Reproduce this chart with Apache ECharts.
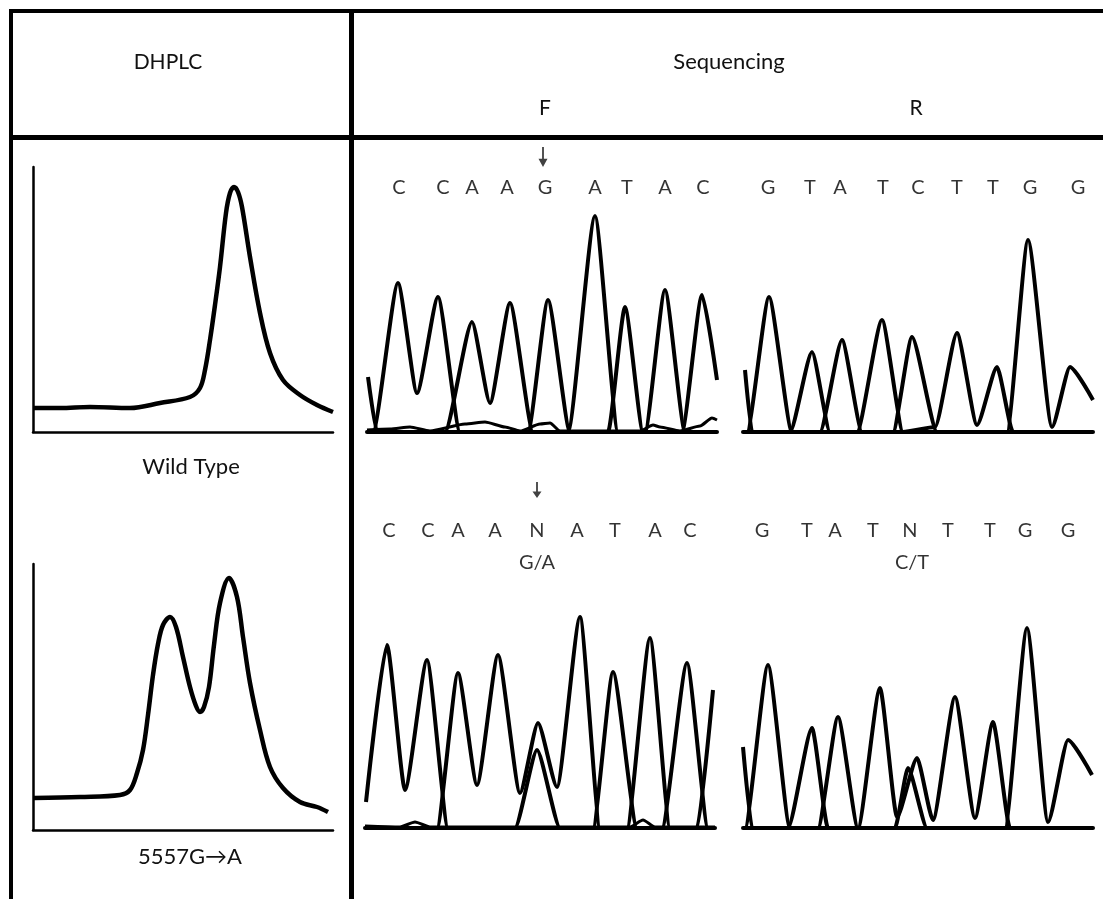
<!DOCTYPE html>
<html>
<head>
<meta charset="utf-8">
<title>DHPLC / Sequencing</title>
<script src="https://cdn.jsdelivr.net/npm/echarts@6/dist/echarts.min.js"></script>
<style>
  html, body { margin: 0; padding: 0; background: #fff; }
  #chart { width: 1103px; height: 899px; }
</style>
</head>
<body>
<div id="chart"></div>
<script>
// DHPLC elution profiles, [retention, signal]
const dhplcWild = [[1,24],[27,24],[57,25],[97,24],[127,29],[157,35],[167,44],[172,62],[177,92],[182,127],[187,165],[193,219],[197,239],[201,245],[205,240],[209,225],[217,175],[227,119],[237,79],[250,52],[267,37],[284,27],[300,20]];
const dhplcMutant = [[1,32],[47,33],[87,35],[97,40],[104,57],[110,80],[115,115],[120,155],[125,186],[130,205],[137,213],[143,203],[150,173],[157,143],[163,124],[167,118],[171,123],[176,143],[181,185],[187,227],[196,252],[204,233],[210,193],[217,147],[227,100],[237,63],[250,42],[267,28],[284,23],[295,18]];

// sequencing traces, one list per dye channel, [scan, intensity]
const fwdWtA = [[0,0],[78,0],[105,110],[123,29],[143,129],[166,0],[201,0],[228,216],[251,0],[278,0],[298,142],[318,0],[350,0]];
const fwdWtC = [[0,0],[6,0],[31,149],[50,39],[71,135],[93,0],[315,0],[335,137],[350,52]];
const fwdWtG = [[0,0],[161,0],[181,132],[203,0],[350,0]];
const fwdWtT = [[1,55],[10,0],[241,0],[258,125],[276,0],[350,0]];
const fwdWtNoise = [[0,2],[23,3],[43,5],[63,1],[98,8],[118,10],[138,5],[153,1],[173,8],[183,9],[193,1],[273,1],[286,7],[293,5],[313,1],[333,6],[345,14],[350,12]];

const revWtA = [[0,0],[77,0],[99,92],[119,0],[350,0]];
const revWtC = [[2,62],[9,0],[150,0],[169,95],[194,0],[350,0]];
const revWtG = [[0,0],[4,0],[26,135],[49,0],[264,0],[285,192],[309,5],[327,65],[350,32]];
const revWtT = [[0,0],[47,0],[69,80],[87,0],[114,0],[139,112],[160,0],[192,5],[214,99],[234,7],[254,65],[270,0],[350,0]];

const fwdMutA = [[0,0],[72,0],[93,155],[112,43],[133,173],[155,35],[173,105],[192,41],[215,211],[235,0],[262,0],[285,190],[305,0],[350,0]];
const fwdMutC = [[1,26],[22,183],[40,38],[62,168],[83,0],[297,0],[322,165],[343,0],[350,0]];
const fwdMutG = [[0,0],[150,0],[172,78],[195,0],[332,0],[348,138]];
const fwdMutT = [[0,0],[228,0],[248,156],[272,0],[350,0]];
const fwdMutNoise = [[0,2],[35,1],[50,6],[65,1],[265,1],[278,8],[290,1],[350,1]];

const revMutA = [[0,0],[75,0],[95,111],[115,0],[350,0]];
const revMutC = [[0,81],[9,0],[152,0],[165,60],[184,0],[350,0]];
const revMutG = [[0,0],[2,0],[25,163],[47,0],[262,0],[284,200],[305,6],[325,88],[349,53]];
const revMutT = [[0,0],[45,0],[69,100],[85,0],[115,0],[137,140],[154,11],[174,70],[190,8],[212,131],[232,10],[250,106],[267,0],[350,0]];

// base calls and the scan where each one sits
const fwdWtBases = ['C','C','A','A','G','A','T','A','C'];
const fwdWtPos = [32,76,105,140,178,228,260,298,336];
const revWtBases = ['G','T','A','T','C','T','T','G','G'];
const revWtPos = [25,67,97,140,175,214,250,287,335];
const fwdMutBases = ['C','C','A','A','N','A','T','A','C'];
const fwdMutPos = [24,63,93,130,172,212,250,290,325];
const revMutBases = ['G','T','A','T','N','T','T','G','G'];
const revMutPos = [19,64,92,130,167,205,247,282,325];
const fwdMutant = {label: 'G/A', pos: 172};
const revMutant = {label: 'C/T', pos: 169};
const fwdArrowPos = [176, 172]; // wild type row, mutant row

const FONT = 'Lato, "Open Sans", sans-serif';
const chart = echarts.init(document.getElementById('chart'));

// panel boxes: dhplc x2, then F/R wild type, F/R mutant
const grids = [
  {left: 33, top: 167, width: 300, height: 265},
  {left: 33, top: 564, width: 300, height: 266},
  {left: 367, top: 142, width: 350, height: 290},
  {left: 743, top: 142, width: 350, height: 290},
  {left: 365, top: 468, width: 350, height: 360},
  {left: 743, top: 468, width: 350, height: 360}
];
const yMax = [265, 266, 290, 290, 360, 360];

function axisPair(i) {
  const dhplc = i < 2;
  const x = {
    gridIndex: i, type: 'value', min: 0, max: dhplc ? 300 : 350,
    axisLine: {show: true, onZero: false, lineStyle: {color: '#000', width: dhplc ? 2.5 : 4}},
    axisTick: {show: false}, axisLabel: {show: false}, splitLine: {show: false}
  };
  const y = {
    gridIndex: i, type: 'value', min: 0, max: yMax[i], show: dhplc,
    axisLine: {show: true, onZero: false, lineStyle: {color: '#000', width: 2.5}},
    axisTick: {show: false}, axisLabel: {show: false}, splitLine: {show: false}
  };
  return [x, y];
}

function trace(data, i, w) {
  return {
    type: 'line', xAxisIndex: i, yAxisIndex: i, data: data,
    smooth: i < 2 ? 0.35 : 0.2, smoothMonotone: i < 2 ? undefined : 'x',
    symbol: 'none', silent: true,
    lineStyle: {color: '#000', width: w || 4}
  };
}

function calls(bases, pos, level, i) {
  return {
    type: 'scatter', xAxisIndex: i, yAxisIndex: i, silent: true,
    symbol: 'circle', symbolSize: 1, itemStyle: {color: 'rgba(0,0,0,0)'},
    data: bases.map((b, k) => ({name: b, value: [pos[k], level]})),
    label: {show: true, position: 'inside', formatter: '{b}', color: '#000', fontSize: 20, fontFamily: FONT}
  };
}

function arrow(x, level, len, i) {
  return {
    type: 'scatter', xAxisIndex: i, yAxisIndex: i, silent: true,
    symbol: 'path://M4,0 L6,0 L6,13 L10,13 L5,22 L0,13 L4,13 Z',
    symbolSize: [9, len], itemStyle: {color: '#111'},
    data: [[x, level]]
  };
}

const xAxes = [], yAxes = [];
grids.forEach((g, i) => { const p = axisPair(i); xAxes.push(p[0]); yAxes.push(p[1]); });

function text(str, x, y, size) {
  return {
    type: 'text', x: x, y: y, silent: true,
    style: {text: str, fill: '#111', font: size + 'px ' + FONT,
      align: 'center', verticalAlign: 'middle', textAlign: 'center', textVerticalAlign: 'middle'}
  };
}
function rule(x1, y1, x2, y2, w) {
  return {type: 'line', silent: true, shape: {x1: x1, y1: y1, x2: x2, y2: y2}, style: {stroke: '#000', lineWidth: w}};
}

chart.setOption({
  animation: false,
  grid: grids,
  xAxis: xAxes,
  yAxis: yAxes,
  graphic: [
    rule(9, 11, 1103, 11, 4),
    rule(11, 9, 11, 899, 4),
    rule(351.5, 9, 351.5, 899, 5),
    rule(9, 137.5, 1103, 137.5, 5),
    text('DHPLC', 168, 62, 21),
    text('Sequencing', 729, 62, 22),
    text('F', 545, 108, 21),
    text('R', 916, 108, 21),
    text('Wild Type', 191, 467, 22),
    text('5557G\u2192A', 190, 857, 22)
  ],
  series: [
    trace(dhplcWild, 0, 4.5),
    trace(dhplcMutant, 1, 4.5),
    trace(fwdWtNoise, 2, 3), trace(fwdWtA, 2), trace(fwdWtC, 2), trace(fwdWtG, 2), trace(fwdWtT, 2),
    trace(revWtA, 3), trace(revWtC, 3), trace(revWtG, 3), trace(revWtT, 3),
    trace(fwdMutNoise, 4, 3), trace(fwdMutA, 4), trace(fwdMutC, 4), trace(fwdMutG, 4), trace(fwdMutT, 4),
    trace(revMutA, 5), trace(revMutC, 5), trace(revMutG, 5), trace(revMutT, 5),
    calls(fwdWtBases, fwdWtPos, 244, 2),
    calls(revWtBases, revWtPos, 244, 3),
    calls(fwdMutBases, fwdMutPos, 297, 4),
    calls(revMutBases, revMutPos, 297, 5),
    calls([fwdMutant.label], [fwdMutant.pos], 265, 4),
    calls([revMutant.label], [revMutant.pos], 265, 5),
    arrow(fwdArrowPos[0], 275, 20, 2),
    arrow(fwdArrowPos[1], 338, 16, 4)
  ]
});
</script>
</body>
</html>
